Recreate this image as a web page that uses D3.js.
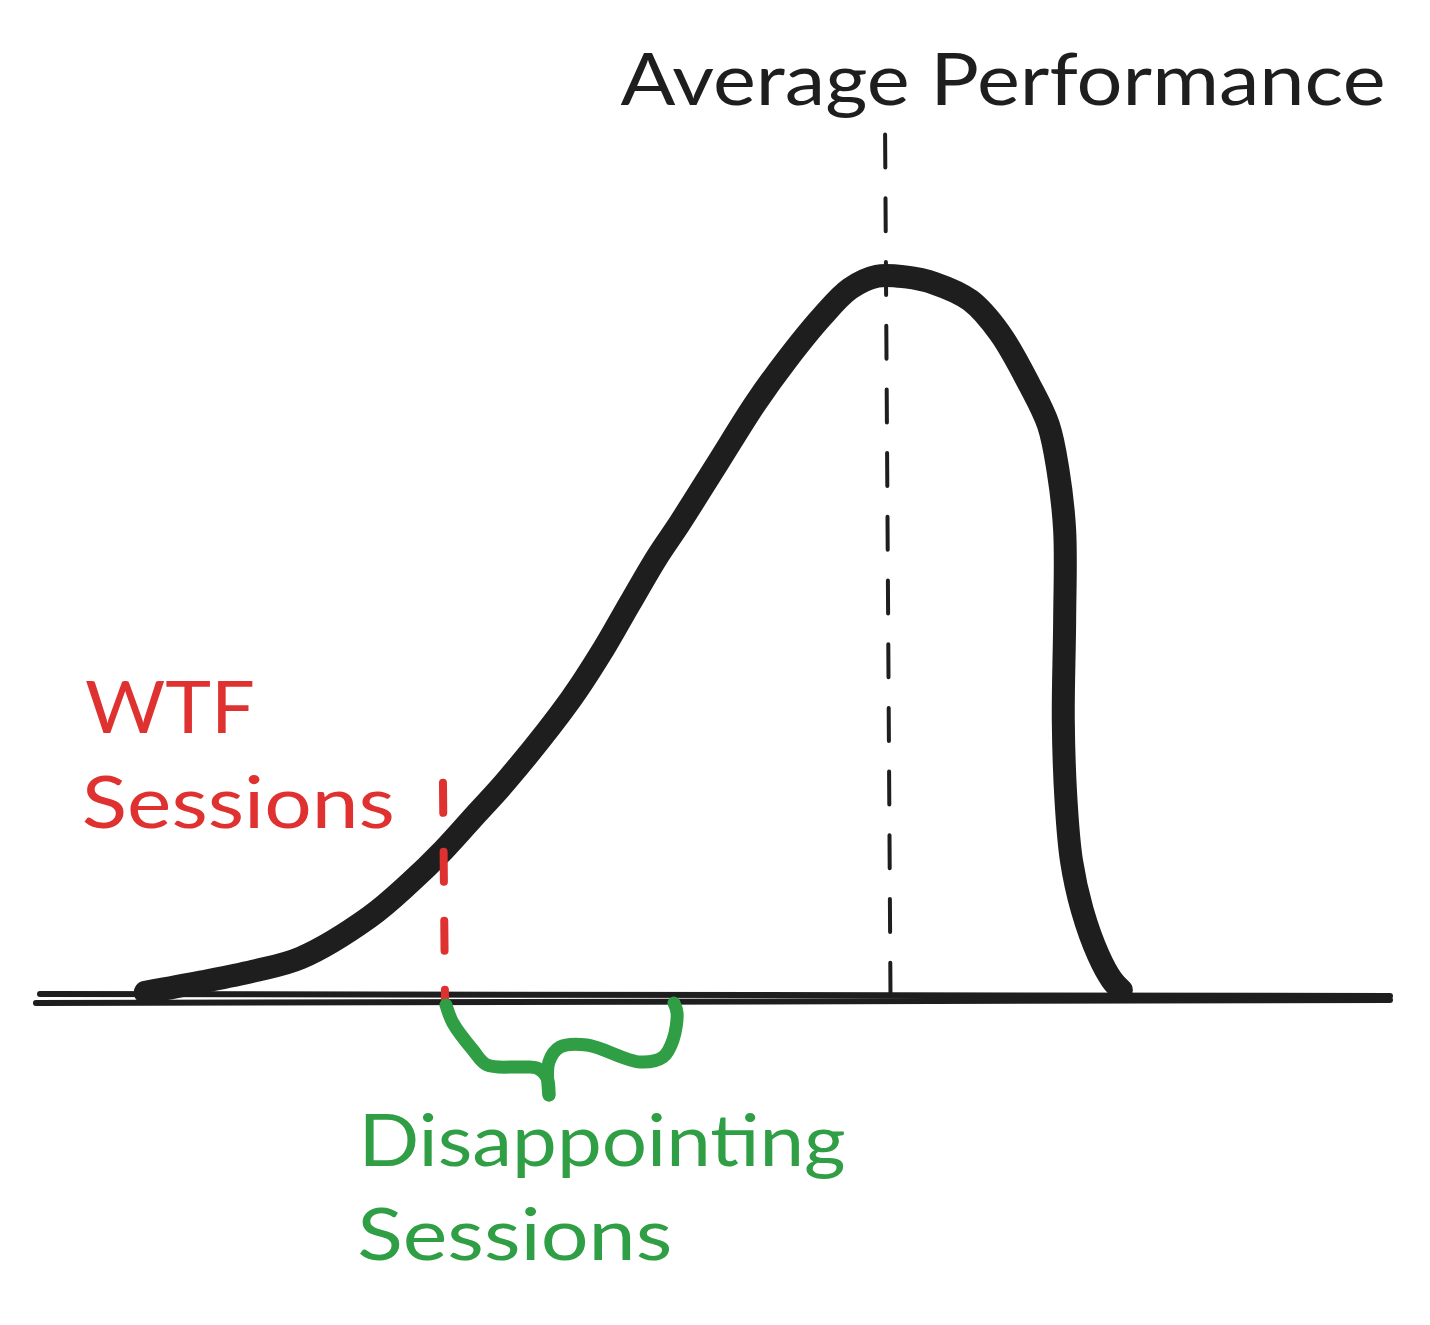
<!DOCTYPE html>
<html>
<head>
<meta charset="utf-8">
<script src="https://cdn.jsdelivr.net/npm/d3@7"></script>
<style>
  html, body { margin: 0; padding: 0; background: #ffffff; }
  text { font-family: "Lato", "Noto Sans", sans-serif; }
</style>
</head>
<body>
<svg id="chart"></svg>
<script>
// performance (x) vs how often it happens (y)
const perfX   = [7.8, 11.9, 15.8, 19.3, 24.4, 27.4, 29.9, 32.4, 34.6, 39.3, 41.7, 43.7, 45.7, 47.4, 50.2, 53.0, 55.3, 57.9, 60.0, 62.0, 64.1, 66.3, 68.9, 71.1, 73.3, 74.7, 75.4, 75.9, 75.9, 75.8, 76.0, 76.4, 77.2, 78.4, 79.4, 80.1];
const density = [0.5, 1.9, 3.4, 5.2, 10.8, 15.5, 20.0, 25.1, 29.6, 40.6, 47.4, 53.8, 60.1, 64.8, 73.0, 81.2, 87.1, 93.0, 96.9, 98.6, 98.5, 97.6, 95.3, 90.8, 83.7, 78.2, 72.1, 63.8, 51.5, 37.8, 26.8, 18.6, 11.8, 5.6, 2.2, 0.8];

// the two hand drawn strokes of the baseline
const baseA = [[0, 0.27], [100, 0]];
const baseB = [[-0.3, -0.96], [100, -0.55]];

// markers
const avgLine = [[62.6, 118], [63.0, 0]];
const wtfLine = [[29.85, 29.2], [30.0, -0.55]];

// brace under the "disappointing" range
const braceLeftX  = [30.07, 30.59, 32.07, 33.11, 35.56, 36.81, 37.56, 37.70];
const braceLeftY  = [-1.23, -3.70, -7.40, -9.45, -9.73, -9.86, -11.23, -13.56];
const braceRightX = [46.96, 47.19, 46.89, 46.15, 44.44, 40.52, 38.52, 37.70, 37.70];
const braceRightY = [-0.96, -2.33, -6.03, -8.36, -9.04, -6.71, -6.99, -9.04, -13.56];

// labels: text, x, y (baseline), width
const labels = [
  {text: "Average Performance", x: 43.0, y: 122.1, w: 765, color: "#1e1e1e"},
  {text: "WTF",                 x: 3.33, y: 36.0,  w: 170, color: "#e03131"},
  {text: "Sessions",            x: 3.1,  y: 23.0,  w: 313, color: "#e03131"},
  {text: "Disappointing",       x: 23.6, y: -23.3, w: 487, color: "#2f9e44"},
  {text: "Sessions",            x: 23.5, y: -36.2, w: 315, color: "#2f9e44"},
];

const width = 1430, height = 1325;

const svg = d3.select("svg#chart")
    .attr("width", width)
    .attr("height", height);

const xScale = d3.scaleLinear()
    .domain([0, 100])
    .range([40, 1390]);

const yScale = d3.scaleLinear()
    .domain([0, 100])
    .range([996, 266]);

const line = d3.line()
    .x((d) => xScale(d[0]))
    .y((d) => yScale(d[1]))
    .curve(d3.curveCatmullRom.alpha(0.5));

const straight = d3.line()
    .x((d) => xScale(d[0]))
    .y((d) => yScale(d[1]));

// baseline
const baselines = [baseA, baseB];
baselines.forEach((b) => {
    svg.append("path")
        .attr("d", straight(b))
        .attr("fill", "none")
        .attr("stroke", "#1e1e1e")
        .attr("stroke-width", 6)
        .attr("stroke-linecap", "round");
});

// average dashed line
svg.append("path")
    .attr("d", straight(avgLine))
    .attr("fill", "none")
    .attr("stroke", "#1e1e1e")
    .attr("stroke-width", 4)
    .attr("stroke-linecap", "round")
    .attr("stroke-dasharray", "33,30.7");

// distribution curve
const curveData = perfX.map((x, i) => [x, density[i]]);
svg.append("path")
    .attr("d", line(curveData))
    .attr("fill", "none")
    .attr("stroke", "#1e1e1e")
    .attr("stroke-width", 23)
    .attr("stroke-linecap", "round")
    .attr("stroke-linejoin", "round");

// WTF threshold
svg.append("path")
    .attr("d", straight(wtfLine))
    .attr("fill", "none")
    .attr("stroke", "#e03131")
    .attr("stroke-width", 8)
    .attr("stroke-linecap", "round")
    .attr("stroke-dasharray", "30,39");

// brace
const braceParts = [[braceLeftX, braceLeftY], [braceRightX, braceRightY]];
braceParts.forEach(([bx, by]) => {
    svg.append("path")
        .attr("d", line(bx.map((x, i) => [x, by[i]])))
        .attr("fill", "none")
        .attr("stroke", "#2f9e44")
        .attr("stroke-width", 13)
        .attr("stroke-linecap", "round")
        .attr("stroke-linejoin", "round");
});

// labels
svg.selectAll("text.label")
    .data(labels)
    .enter().append("text")
    .attr("class", "label")
    .attr("x", (d) => xScale(d.x))
    .attr("y", (d) => yScale(d.y))
    .attr("font-size", "72px")
    .attr("fill", (d) => d.color)
    .attr("textLength", (d) => d.w)
    .attr("lengthAdjust", "spacingAndGlyphs")
    .text((d) => d.text);
</script>
</body>
</html>
